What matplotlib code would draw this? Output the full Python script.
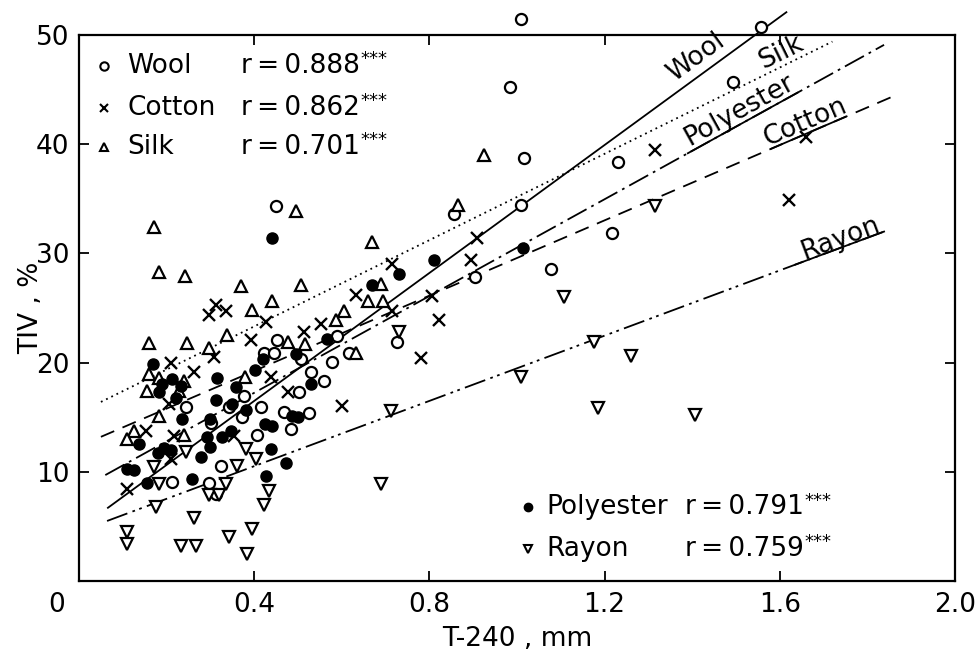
import matplotlib.pyplot as plt
import numpy as np

# points (x = T-240 in mm, y = TIV in %)
wool_x = [0.449, 0.452, 0.422, 0.445, 0.506, 0.588, 0.577, 0.616, 0.529, 0.559,
          0.502, 0.376, 0.415, 0.467, 0.525, 0.483, 0.406, 0.342, 0.372, 0.301,
          0.244, 0.324, 0.296, 0.212, 0.312, 0.725,
          1.557, 1.010, 0.983, 1.494, 1.016, 1.230, 1.010, 0.855, 1.216, 1.077, 0.903]
wool_y = [34.3, 22.1, 20.9, 20.9, 20.3, 22.4, 20.1, 20.9, 19.1, 18.3,
          17.3, 16.9, 15.9, 15.5, 15.4, 13.9, 13.4, 15.9, 15.0, 14.5,
          15.9, 10.5, 9.0, 9.1, 8.0, 21.9,
          50.7, 51.5, 45.2, 45.7, 38.7, 38.4, 34.4, 33.6, 31.9, 28.6, 27.8]

cotton_x = [1.316, 1.66, 1.62, 0.908, 0.894, 0.805, 0.821, 0.78, 0.714, 0.714,
            0.632, 0.552, 0.513, 0.426, 0.392, 0.296, 0.312, 0.335, 0.308, 0.21,
            0.262, 0.438, 0.477, 0.60, 0.205, 0.153, 0.217, 0.354, 0.109, 0.21]
cotton_y = [39.5, 40.7, 34.9, 31.4, 29.4, 26.1, 23.9, 20.4, 24.7, 29.0,
            26.2, 23.5, 22.8, 23.7, 22.1, 24.4, 25.3, 24.7, 20.5, 20.0,
            19.1, 18.7, 17.3, 16.0, 16.2, 13.7, 13.3, 13.3, 8.4, 11.2]

silk_x = [0.495, 0.171, 0.182, 0.242, 0.668, 0.369, 0.506, 0.44, 0.395, 0.69,
          0.659, 0.695, 0.604, 0.586, 0.338, 0.247, 0.16, 0.297, 0.477, 0.517,
          0.632, 0.16, 0.182, 0.155, 0.228, 0.379, 0.24, 0.182, 0.24, 0.125,
          0.11, 0.924, 0.865]
silk_y = [33.9, 32.4, 28.3, 27.9, 31.0, 27.0, 27.1, 25.6, 24.8, 27.2,
          25.6, 25.6, 24.7, 23.9, 22.5, 21.8, 21.8, 21.3, 21.9, 21.7,
          20.9, 19.0, 18.6, 17.4, 17.4, 18.7, 18.3, 15.1, 13.4, 13.7,
          13.0, 39.0, 34.4]

poly_x = [0.44, 1.013, 0.81, 0.73, 0.668, 0.566, 0.495, 0.42, 0.401, 0.169,
          0.315, 0.212, 0.19, 0.232, 0.358, 0.182, 0.221, 0.312, 0.349, 0.381,
          0.529, 0.486, 0.50, 0.424, 0.44, 0.235, 0.30, 0.347, 0.292, 0.326,
          0.137, 0.194, 0.21, 0.18, 0.30, 0.278, 0.438, 0.109, 0.125, 0.472,
          0.155, 0.258, 0.426]
poly_y = [31.4, 30.5, 29.4, 28.1, 27.1, 22.2, 20.8, 20.3, 19.3, 19.9,
          18.6, 18.5, 18.0, 17.9, 17.8, 17.3, 16.8, 16.6, 16.2, 15.7,
          18.0, 15.1, 15.0, 14.4, 14.2, 14.8, 14.8, 13.7, 13.2, 13.2,
          12.5, 12.2, 12.0, 11.7, 12.3, 11.4, 12.1, 10.3, 10.2, 10.8,
          9.0, 9.3, 9.6]

rayon_x = [1.316, 1.108, 1.175, 1.261, 1.01, 1.186, 1.407, 0.712, 0.69, 0.73,
           0.433, 0.422, 0.395, 0.383, 0.342, 0.267, 0.233, 0.262, 0.175, 0.11,
           0.11, 0.404, 0.381, 0.36, 0.296, 0.32, 0.335, 0.244, 0.182, 0.171]
rayon_y = [34.3, 26.0, 21.9, 20.6, 18.7, 15.8, 15.2, 15.6, 8.9, 22.8,
           8.2, 7.0, 4.8, 2.5, 4.0, 3.2, 3.2, 5.8, 6.8, 4.5,
           3.4, 11.2, 12.1, 10.5, 7.9, 7.9, 8.9, 11.8, 8.9, 10.4]

# regression lines: y = a + b*x drawn from x0 to x1
fit_names = ["Wool", "Silk", "Polyester", "Cotton", "Rayon"]
fit_a = [4.77, 15.41, 8.37, 12.34, 4.54]
fit_b = [29.3, 19.76, 22.16, 17.24, 14.94]
fit_x0 = [0.066, 0.05, 0.06, 0.05, 0.064]
fit_x1 = [1.615, 1.72, 1.838, 1.865, 1.838]
fit_label_x = [1.409, 1.603, 1.507, 1.658, 1.738]
fit_label_y = [48.0, 48.4, 43.1, 42.0, 31.4]
underline = {"Polyester": (1.39, 1.64), "Cotton": (1.58, 1.75), "Rayon": (1.635, 1.838)}
fit_style = {"Wool": "-",
             "Silk": (0, (1, 2.2)),
             "Polyester": (0, (12, 3, 1.5, 3)),
             "Cotton": (0, (8, 5)),
             "Rayon": (0, (12, 3, 1.5, 2.5, 1.5, 3))}

top_names = ["Wool", "Cotton", "Silk"]
top_r = ["0.888", "0.862", "0.701"]
bot_names = ["Polyester", "Rayon"]
bot_r = ["0.791", "0.759"]

plt.rcParams['font.family'] = ['DejaVu Sans']
plt.rcParams['font.size'] = 19

fig = plt.figure(figsize=(9.78, 6.57), dpi=100)
ax = fig.add_axes([0.0808, 0.1157, 0.8957, 0.831])
ax.set_xlim(0, 2.0)
ax.set_ylim(0, 50)

open_kw = dict(ls='none', ms=8, mew=1.6, mec='black', mfc='white', zorder=4)
ax.plot(wool_x, wool_y, marker='o', clip_on=False, **open_kw)
ax.plot(cotton_x, cotton_y, marker='x', ls='none', ms=8, mew=1.7, color='black', zorder=4)
ax.plot(silk_x, silk_y, marker='^', **open_kw)
ax.plot(rayon_x, rayon_y, marker='v', **open_kw)
ax.plot(poly_x, poly_y, marker='o', ls='none', ms=8, color='black', zorder=4)

for name, a, b, x0, x1, lx, ly in zip(fit_names, fit_a, fit_b, fit_x0, fit_x1,
                                      fit_label_x, fit_label_y):
    xs = np.array([x0, x1])
    ax.plot(xs, a + b * xs, color='black', lw=1.3, ls=fit_style[name],
            clip_on=False, zorder=3)
    if name in underline:
        ux = np.array(underline[name])
        ax.plot(ux, a + b * ux, color='black', lw=1.3, clip_on=False, zorder=3)
    ang = ax.transData.transform_angles(np.array([np.degrees(np.arctan(b))]),
                                        np.array([[lx, ly]]))[0]
    ax.text(lx, ly, name, rotation=ang, rotation_mode='anchor',
            ha='center', va='center', zorder=5)

# legend blocks
r_texts = []
for i, (n, r) in enumerate(zip(top_names, top_r)):
    yy = [0.943, 0.867, 0.795][i]
    m = {"Wool": 'o', "Cotton": 'x', "Silk": '^'}[n]
    ax.plot([0.029], [yy], transform=ax.transAxes, marker=m, ms=6, mew=1.5,
            mec='black', mfc='white', color='black', ls='none')
    ax.text(0.055, yy, n, transform=ax.transAxes, va='center', ha='left')
    r_texts.append(ax.text(0.185, yy, "r\u2009=\u2009" + r, transform=ax.transAxes,
                           va='center', ha='left'))

for i, (n, r) in enumerate(zip(bot_names, bot_r)):
    yy = [0.135, 0.0585][i]
    if n == "Polyester":
        ax.plot([0.513], [yy], transform=ax.transAxes, marker='o', ms=6,
                color='black', ls='none')
    else:
        ax.plot([0.513], [yy], transform=ax.transAxes, marker='v', ms=6, mew=1.5,
                mec='black', mfc='white', ls='none')
    ax.text(0.534, yy, n, transform=ax.transAxes, va='center', ha='left')
    r_texts.append(ax.text(0.692, yy, "r\u2009=\u2009" + r, transform=ax.transAxes,
                           va='center', ha='left'))

# significance stars as a small superscript after each r value
for t in r_texts:
    ax.annotate("***", xy=(1.0, 1.0), xycoords=t, xytext=(0.5, 2),
                textcoords='offset points', ha='left', va='top', fontsize=13)

ax.set_xticks([0.4, 0.8, 1.2, 1.6, 2.0])
ax.set_xticklabels(["0.4", "0.8", "1.2", "1.6", "2.0"])
ax.set_yticks([10, 20, 30, 40, 50])
ax.set_yticklabels(["10", "20", "30", "40", "50"])
ax.annotate("0", xy=(0, 0), xycoords='axes fraction', xytext=(-16, -17),
            textcoords='offset points', ha='center', va='center')
ax.tick_params(direction='in', top=True, right=True, length=7, width=1.3)
ax.tick_params(axis='x', pad=8)
ax.tick_params(axis='y', pad=7)
for s in ax.spines.values():
    s.set_linewidth(1.6)

ax.set_xlabel("T-240 , mm", labelpad=6)
ax.set_ylabel("TIV , %", labelpad=-6)

fig.savefig("out.png", dpi=100)
